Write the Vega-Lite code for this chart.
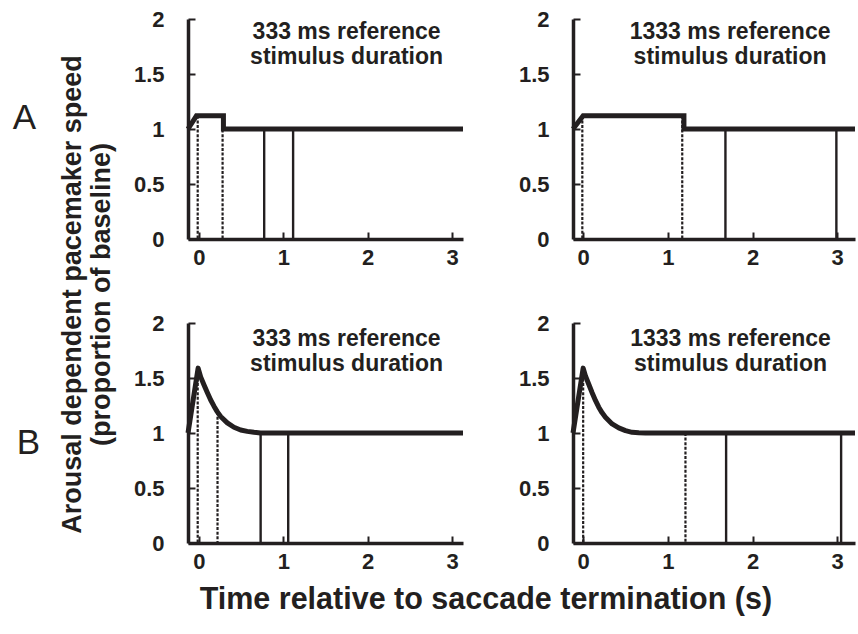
{
  "$schema": "https://vega.github.io/schema/vega-lite/v6.json",
  "background": "white",
  "padding": {"left": 12, "top": 8, "right": 3, "bottom": 5},
  "datasets": {
    "curves": [
      {"panel": "A333", "t": -0.13, "v": 1.0},
      {"panel": "A333", "t": -0.03, "v": 1.12},
      {"panel": "A333", "t": 0.29, "v": 1.12},
      {"panel": "A333", "t": 0.29, "v": 1.0},
      {"panel": "A333", "t": 3.13, "v": 1.0},
      {"panel": "A1333", "t": -0.12, "v": 1.0},
      {"panel": "A1333", "t": 0.0, "v": 1.12},
      {"panel": "A1333", "t": 1.19, "v": 1.12},
      {"panel": "A1333", "t": 1.19, "v": 1.0},
      {"panel": "A1333", "t": 3.21, "v": 1.0},
      {"panel": "B333", "t": -0.13, "v": 1.0},
      {"panel": "B333", "t": -0.01, "v": 1.59},
      {"panel": "B333", "t": 0.02, "v": 1.51},
      {"panel": "B333", "t": 0.06, "v": 1.437},
      {"panel": "B333", "t": 0.10, "v": 1.366},
      {"panel": "B333", "t": 0.139, "v": 1.30},
      {"panel": "B333", "t": 0.178, "v": 1.244},
      {"panel": "B333", "t": 0.218, "v": 1.192},
      {"panel": "B333", "t": 0.257, "v": 1.15},
      {"panel": "B333", "t": 0.336, "v": 1.092},
      {"panel": "B333", "t": 0.415, "v": 1.052},
      {"panel": "B333", "t": 0.494, "v": 1.027},
      {"panel": "B333", "t": 0.573, "v": 1.015},
      {"panel": "B333", "t": 0.652, "v": 1.006},
      {"panel": "B333", "t": 0.73, "v": 1.0},
      {"panel": "B333", "t": 3.13, "v": 1.0},
      {"panel": "B1333", "t": -0.12, "v": 1.0},
      {"panel": "B1333", "t": 0.0, "v": 1.59},
      {"panel": "B1333", "t": 0.027, "v": 1.519},
      {"panel": "B1333", "t": 0.066, "v": 1.443},
      {"panel": "B1333", "t": 0.106, "v": 1.366},
      {"panel": "B1333", "t": 0.145, "v": 1.296},
      {"panel": "B1333", "t": 0.184, "v": 1.235},
      {"panel": "B1333", "t": 0.224, "v": 1.183},
      {"panel": "B1333", "t": 0.263, "v": 1.143},
      {"panel": "B1333", "t": 0.342, "v": 1.082},
      {"panel": "B1333", "t": 0.42, "v": 1.046},
      {"panel": "B1333", "t": 0.5, "v": 1.021},
      {"panel": "B1333", "t": 0.578, "v": 1.006},
      {"panel": "B1333", "t": 0.657, "v": 1.002},
      {"panel": "B1333", "t": 0.736, "v": 1.0},
      {"panel": "B1333", "t": 3.21, "v": 1.0}
    ],
    "markers": [
      {"panel": "A333", "marker": "speed change", "t": -0.015, "v": 1.12},
      {"panel": "A333", "marker": "speed change", "t": 0.28, "v": 1.12},
      {"panel": "A333", "marker": "stimulus", "t": 0.773, "v": 1.0},
      {"panel": "A333", "marker": "stimulus", "t": 1.116, "v": 1.0},
      {"panel": "A1333", "marker": "speed change", "t": -0.01, "v": 1.12},
      {"panel": "A1333", "marker": "speed change", "t": 1.17, "v": 1.12},
      {"panel": "A1333", "marker": "stimulus", "t": 1.68, "v": 1.0},
      {"panel": "A1333", "marker": "stimulus", "t": 2.99, "v": 1.0},
      {"panel": "B333", "marker": "speed change", "t": -0.015, "v": 1.58},
      {"panel": "B333", "marker": "speed change", "t": 0.22, "v": 1.19},
      {"panel": "B333", "marker": "stimulus", "t": 0.731, "v": 1.0},
      {"panel": "B333", "marker": "stimulus", "t": 1.058, "v": 1.0},
      {"panel": "B1333", "marker": "speed change", "t": 0.0, "v": 1.58},
      {"panel": "B1333", "marker": "speed change", "t": 1.208, "v": 1.0},
      {"panel": "B1333", "marker": "stimulus", "t": 1.688, "v": 1.0},
      {"panel": "B1333", "marker": "stimulus", "t": 3.046, "v": 1.0}
    ],
    "notes": [
      {"panel": "A333", "note": "333 ms reference\nstimulus duration"},
      {"panel": "A1333", "note": "1333 ms reference\nstimulus duration"},
      {"panel": "B333", "note": "333 ms reference\nstimulus duration"},
      {"panel": "B1333", "note": "1333 ms reference\nstimulus duration"}
    ]
  },
  "columns": 2,
  "spacing": {"row": 84, "column": 110},
  "bounds": "flush",
  "title": {
    "text": "Time relative to saccade termination (s)",
    "orient": "bottom", "anchor": "middle", "frame": "bounds",
    "fontSize": 30.5, "fontWeight": "bold", "font": "Liberation Sans", "color": "#231f20",
    "dx": 47, "offset": 13
  },
  "concat": [
    {
      "width": 275, "height": 220,
      "title": {"text": "A", "orient": "left", "angle": 0, "anchor": "middle", "frame": "group", "fontSize": 35, "fontWeight": "normal", "font": "Liberation Sans", "color": "#231f20", "offset": -1, "dy": -11, "align": "right", "baseline": "middle"},
      "layer": [
        {
          "data": {"name": "markers"},
          "transform": [{"filter": "datum.panel === 'A333' && datum.marker === 'speed change'"}],
          "mark": {"type": "rule", "strokeWidth": 2.2, "strokeDash": [3, 1.6], "color": "#231f20"},
          "encoding": {
            "x": {"field": "t", "type": "quantitative", "scale": {"domain": [-0.13, 3.13], "nice": false, "zero": false}, "axis": {"values": [0, 1, 2, 3], "format": "d", "title": null}},
            "y": {"field": "v", "type": "quantitative", "scale": {"domain": [0, 2], "nice": false}, "axis": {"values": [0, 0.5, 1, 1.5, 2], "format": "~g", "title": ["Arousal dependent pacemaker speed", "(proportion of baseline)"], "titleY": 275, "titlePadding": 18, "titleLineHeight": 29, "titleFontSize": 27}},
            "y2": {"datum": 0}
          }
        },
        {
          "data": {"name": "markers"},
          "transform": [{"filter": "datum.panel === 'A333' && datum.marker === 'stimulus'"}],
          "mark": {"type": "rule", "strokeWidth": 2.4, "color": "#231f20"},
          "encoding": {
            "x": {"field": "t", "type": "quantitative", "scale": {"domain": [-0.13, 3.13], "nice": false, "zero": false}, "axis": {"values": [0, 1, 2, 3], "format": "d", "title": null}},
            "y": {"field": "v", "type": "quantitative", "scale": {"domain": [0, 2], "nice": false}, "axis": {"values": [0, 0.5, 1, 1.5, 2], "format": "~g", "title": ["Arousal dependent pacemaker speed", "(proportion of baseline)"], "titleY": 275, "titlePadding": 18, "titleLineHeight": 29, "titleFontSize": 27}},
            "y2": {"datum": 0}
          }
        },
        {
          "data": {"name": "curves"},
          "transform": [{"filter": "datum.panel === 'A333'"}],
          "mark": {"type": "line", "strokeWidth": 5, "color": "#231f20", "strokeJoin": "miter", "strokeCap": "butt"},
          "encoding": {
            "x": {"field": "t", "type": "quantitative", "scale": {"domain": [-0.13, 3.13], "nice": false, "zero": false}, "axis": {"values": [0, 1, 2, 3], "format": "d", "title": null}},
            "y": {"field": "v", "type": "quantitative", "scale": {"domain": [0, 2], "nice": false}, "axis": {"values": [0, 0.5, 1, 1.5, 2], "format": "~g", "title": ["Arousal dependent pacemaker speed", "(proportion of baseline)"], "titleY": 275, "titlePadding": 18, "titleLineHeight": 29, "titleFontSize": 27}},
            "order": {"value": null}
          }
        },
        {
          "data": {"name": "notes"},
          "transform": [{"filter": "datum.panel === 'A333'"}],
          "mark": {"type": "text", "font": "Liberation Sans", "fontWeight": "bold", "fontSize": 23, "lineBreak": "\n", "lineHeight": 25, "align": "center", "baseline": "alphabetic", "color": "#231f20"},
          "encoding": {
            "x": {"datum": 1.75, "type": "quantitative", "axis": {"values": [0, 1, 2, 3], "format": "d", "title": null}},
            "y": {"datum": 1.815, "type": "quantitative", "axis": {"values": [0, 0.5, 1, 1.5, 2], "format": "~g", "title": ["Arousal dependent pacemaker speed", "(proportion of baseline)"], "titleY": 275, "titlePadding": 18, "titleLineHeight": 29, "titleFontSize": 27}},
            "text": {"field": "note"}
          }
        }
      ]
    },
    {
      "width": 282, "height": 220,
      "layer": [
        {
          "data": {"name": "markers"},
          "transform": [{"filter": "datum.panel === 'A1333' && datum.marker === 'speed change'"}],
          "mark": {"type": "rule", "strokeWidth": 2.2, "strokeDash": [3, 1.6], "color": "#231f20"},
          "encoding": {
            "x": {"field": "t", "type": "quantitative", "scale": {"domain": [-0.12, 3.21], "nice": false, "zero": false}, "axis": {"values": [0, 1, 2, 3], "format": "d", "title": null}},
            "y": {"field": "v", "type": "quantitative", "scale": {"domain": [0, 2], "nice": false}, "axis": {"values": [0, 0.5, 1, 1.5, 2], "format": "~g", "title": null}},
            "y2": {"datum": 0}
          }
        },
        {
          "data": {"name": "markers"},
          "transform": [{"filter": "datum.panel === 'A1333' && datum.marker === 'stimulus'"}],
          "mark": {"type": "rule", "strokeWidth": 2.4, "color": "#231f20"},
          "encoding": {
            "x": {"field": "t", "type": "quantitative", "scale": {"domain": [-0.12, 3.21], "nice": false, "zero": false}, "axis": {"values": [0, 1, 2, 3], "format": "d", "title": null}},
            "y": {"field": "v", "type": "quantitative", "scale": {"domain": [0, 2], "nice": false}, "axis": {"values": [0, 0.5, 1, 1.5, 2], "format": "~g", "title": null}},
            "y2": {"datum": 0}
          }
        },
        {
          "data": {"name": "curves"},
          "transform": [{"filter": "datum.panel === 'A1333'"}],
          "mark": {"type": "line", "strokeWidth": 5, "color": "#231f20", "strokeJoin": "miter", "strokeCap": "butt"},
          "encoding": {
            "x": {"field": "t", "type": "quantitative", "scale": {"domain": [-0.12, 3.21], "nice": false, "zero": false}, "axis": {"values": [0, 1, 2, 3], "format": "d", "title": null}},
            "y": {"field": "v", "type": "quantitative", "scale": {"domain": [0, 2], "nice": false}, "axis": {"values": [0, 0.5, 1, 1.5, 2], "format": "~g", "title": null}},
            "order": {"value": null}
          }
        },
        {
          "data": {"name": "notes"},
          "transform": [{"filter": "datum.panel === 'A1333'"}],
          "mark": {"type": "text", "font": "Liberation Sans", "fontWeight": "bold", "fontSize": 23, "lineBreak": "\n", "lineHeight": 25, "align": "center", "baseline": "alphabetic", "color": "#231f20"},
          "encoding": {
            "x": {"datum": 1.735, "type": "quantitative", "axis": {"values": [0, 1, 2, 3], "format": "d", "title": null}},
            "y": {"datum": 1.815, "type": "quantitative", "axis": {"values": [0, 0.5, 1, 1.5, 2], "format": "~g", "title": null}},
            "text": {"field": "note"}
          }
        }
      ]
    },
    {
      "width": 275, "height": 220,
      "title": {"text": "B", "orient": "left", "angle": 0, "anchor": "middle", "frame": "group", "fontSize": 35, "fontWeight": "normal", "font": "Liberation Sans", "color": "#231f20", "offset": 70, "dy": 10, "align": "right", "baseline": "middle"},
      "layer": [
        {
          "data": {"name": "markers"},
          "transform": [{"filter": "datum.panel === 'B333' && datum.marker === 'speed change'"}],
          "mark": {"type": "rule", "strokeWidth": 2.2, "strokeDash": [3, 1.6], "color": "#231f20"},
          "encoding": {
            "x": {"field": "t", "type": "quantitative", "scale": {"domain": [-0.13, 3.13], "nice": false, "zero": false}, "axis": {"values": [0, 1, 2, 3], "format": "d", "title": null}},
            "y": {"field": "v", "type": "quantitative", "scale": {"domain": [0, 2], "nice": false}, "axis": {"values": [0, 0.5, 1, 1.5, 2], "format": "~g", "title": null}},
            "y2": {"datum": 0}
          }
        },
        {
          "data": {"name": "markers"},
          "transform": [{"filter": "datum.panel === 'B333' && datum.marker === 'stimulus'"}],
          "mark": {"type": "rule", "strokeWidth": 2.4, "color": "#231f20"},
          "encoding": {
            "x": {"field": "t", "type": "quantitative", "scale": {"domain": [-0.13, 3.13], "nice": false, "zero": false}, "axis": {"values": [0, 1, 2, 3], "format": "d", "title": null}},
            "y": {"field": "v", "type": "quantitative", "scale": {"domain": [0, 2], "nice": false}, "axis": {"values": [0, 0.5, 1, 1.5, 2], "format": "~g", "title": null}},
            "y2": {"datum": 0}
          }
        },
        {
          "data": {"name": "curves"},
          "transform": [{"filter": "datum.panel === 'B333'"}],
          "mark": {"type": "line", "strokeWidth": 5, "color": "#231f20", "strokeJoin": "round", "strokeCap": "butt"},
          "encoding": {
            "x": {"field": "t", "type": "quantitative", "scale": {"domain": [-0.13, 3.13], "nice": false, "zero": false}, "axis": {"values": [0, 1, 2, 3], "format": "d", "title": null}},
            "y": {"field": "v", "type": "quantitative", "scale": {"domain": [0, 2], "nice": false}, "axis": {"values": [0, 0.5, 1, 1.5, 2], "format": "~g", "title": null}},
            "order": {"value": null}
          }
        },
        {
          "data": {"name": "notes"},
          "transform": [{"filter": "datum.panel === 'B333'"}],
          "mark": {"type": "text", "font": "Liberation Sans", "fontWeight": "bold", "fontSize": 23, "lineBreak": "\n", "lineHeight": 25, "align": "center", "baseline": "alphabetic", "color": "#231f20"},
          "encoding": {
            "x": {"datum": 1.75, "type": "quantitative", "axis": {"values": [0, 1, 2, 3], "format": "d", "title": null}},
            "y": {"datum": 1.79, "type": "quantitative", "axis": {"values": [0, 0.5, 1, 1.5, 2], "format": "~g", "title": null}},
            "text": {"field": "note"}
          }
        }
      ]
    },
    {
      "width": 282, "height": 220,
      "layer": [
        {
          "data": {"name": "markers"},
          "transform": [{"filter": "datum.panel === 'B1333' && datum.marker === 'speed change'"}],
          "mark": {"type": "rule", "strokeWidth": 2.2, "strokeDash": [3, 1.6], "color": "#231f20"},
          "encoding": {
            "x": {"field": "t", "type": "quantitative", "scale": {"domain": [-0.12, 3.21], "nice": false, "zero": false}, "axis": {"values": [0, 1, 2, 3], "format": "d", "title": null}},
            "y": {"field": "v", "type": "quantitative", "scale": {"domain": [0, 2], "nice": false}, "axis": {"values": [0, 0.5, 1, 1.5, 2], "format": "~g", "title": null}},
            "y2": {"datum": 0}
          }
        },
        {
          "data": {"name": "markers"},
          "transform": [{"filter": "datum.panel === 'B1333' && datum.marker === 'stimulus'"}],
          "mark": {"type": "rule", "strokeWidth": 2.4, "color": "#231f20"},
          "encoding": {
            "x": {"field": "t", "type": "quantitative", "scale": {"domain": [-0.12, 3.21], "nice": false, "zero": false}, "axis": {"values": [0, 1, 2, 3], "format": "d", "title": null}},
            "y": {"field": "v", "type": "quantitative", "scale": {"domain": [0, 2], "nice": false}, "axis": {"values": [0, 0.5, 1, 1.5, 2], "format": "~g", "title": null}},
            "y2": {"datum": 0}
          }
        },
        {
          "data": {"name": "curves"},
          "transform": [{"filter": "datum.panel === 'B1333'"}],
          "mark": {"type": "line", "strokeWidth": 5, "color": "#231f20", "strokeJoin": "round", "strokeCap": "butt"},
          "encoding": {
            "x": {"field": "t", "type": "quantitative", "scale": {"domain": [-0.12, 3.21], "nice": false, "zero": false}, "axis": {"values": [0, 1, 2, 3], "format": "d", "title": null}},
            "y": {"field": "v", "type": "quantitative", "scale": {"domain": [0, 2], "nice": false}, "axis": {"values": [0, 0.5, 1, 1.5, 2], "format": "~g", "title": null}},
            "order": {"value": null}
          }
        },
        {
          "data": {"name": "notes"},
          "transform": [{"filter": "datum.panel === 'B1333'"}],
          "mark": {"type": "text", "font": "Liberation Sans", "fontWeight": "bold", "fontSize": 23, "lineBreak": "\n", "lineHeight": 25, "align": "center", "baseline": "alphabetic", "color": "#231f20"},
          "encoding": {
            "x": {"datum": 1.74, "type": "quantitative", "axis": {"values": [0, 1, 2, 3], "format": "d", "title": null}},
            "y": {"datum": 1.79, "type": "quantitative", "axis": {"values": [0, 0.5, 1, 1.5, 2], "format": "~g", "title": null}},
            "text": {"field": "note"}
          }
        }
      ]
    }
  ],
  "config": {
    "view": {"stroke": null},
    "font": "Liberation Sans",
    "axis": {
      "grid": false,
      "domainColor": "#231f20", "domainWidth": 3.5,
      "tickColor": "#231f20", "tickWidth": 2, "tickSize": -7,
      "labelFont": "Liberation Sans", "labelFontWeight": "bold", "labelFontSize": 22, "labelColor": "#231f20",
      "titleFont": "Liberation Sans", "titleFontWeight": "bold", "titleFontSize": 25, "titleColor": "#231f20"
    },
    "axisX": {"labelPadding": 15},
    "axisY": {"labelPadding": 31}
  }
}
